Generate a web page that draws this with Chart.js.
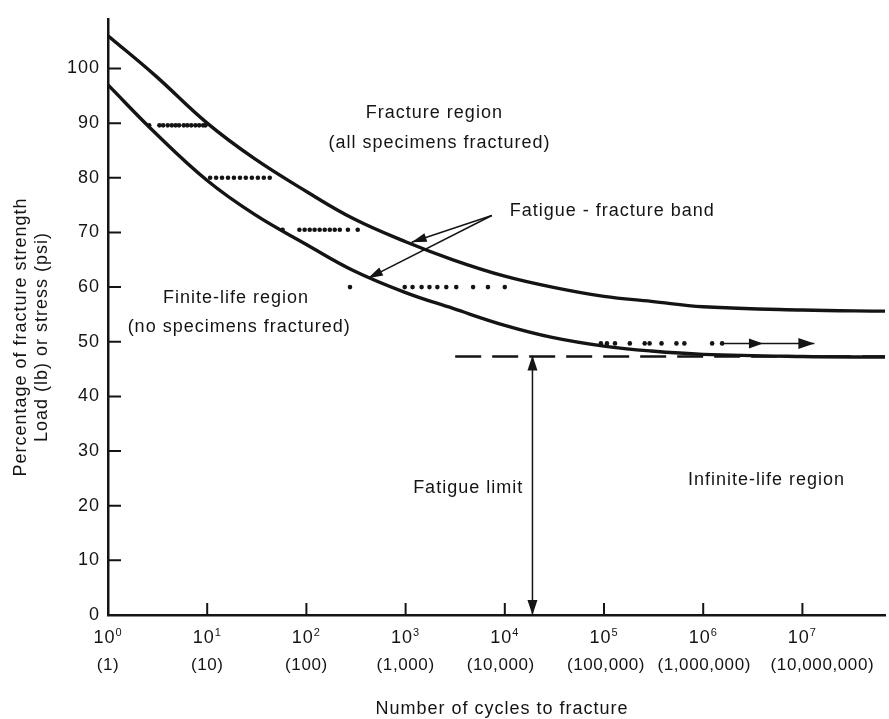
<!DOCTYPE html>
<html>
<head>
<meta charset="utf-8">
<script src="https://cdn.jsdelivr.net/npm/chart.js@4.4.1/dist/chart.umd.min.js"></script>
<style>
  html, body { margin: 0; padding: 0; background: #fff; }
  #wrap { width: 889px; height: 719px; }
</style>
</head>
<body>
<div id="wrap"><canvas id="grafico-fadiga"></canvas></div>
<script>
// Curve sample points (number of cycles) and band edges (% of fracture strength)
const curveCycles = [1, 3, 10, 30, 100, 300, 1000, 3000, 10000, 30000, 100000, 300000, 1000000, 10000000, 68000000];
const upperBand = [106, 98.7, 90, 83.5, 77.5, 72.5, 68.3, 65, 62, 60, 58.3, 57.4, 56.4, 55.8, 55.6];
const lowerBand = [97, 88.2, 79.5, 73.3, 67.8, 63, 59, 56.1, 53, 50.8, 49.2, 48.3, 47.7, 47.3, 47.2];

// Test specimens: stress level and cycles at fracture
const testLevels = [89.6, 80, 70.5, 60, 49.7];
const testCycles = [
  [2.6, 3.3, 3.6, 4.0, 4.4, 4.8, 5.2, 5.8, 6.3, 6.9, 7.6, 8.3, 9.1, 9.6],
  [10.7, 12.3, 14.1, 16.2, 18.6, 21.4, 24.5, 28.2, 32.4, 37.2, 42.7],
  [57.5, 85, 96, 108, 121, 136, 153, 172, 193, 217, 262, 329],
  [275, 980, 1175, 1450, 1740, 2090, 2570, 3240, 4790, 6760, 10000],
  [93000, 107000, 129000, 182000, 257000, 288000, 380000, 537000, 646000, 1230000, 1550000]
];

// Fatigue limit
const fatigueLimit = 47.3;
const fatigueLimitFrom = 3160;
const fatigueLimitArrowAt = 19000;

// Axis ticks
const xTickCycles = [1, 10, 100, 1000, 10000, 100000, 1000000, 10000000];
const xTickExp = ['0', '1', '2', '3', '4', '5', '6', '7'];
const xTickCount = ['(1)', '(10)', '(100)', '(1,000)', '(10,000)', '(100,000)', '(1,000,000)', '(10,000,000)'];
const yTicks = [0, 10, 20, 30, 40, 50, 60, 70, 80, 90, 100];

const ink = '#141414';
const fontFamily = '"Liberation Sans", Arial, sans-serif';
// small horizontal nudges of the "(count)" labels, as typeset in the source
const countNudge = [0, 0, 0, 0, -4, 2, 1, 20];

Chart.defaults.font.family = fontFamily;
Chart.defaults.font.size = 18;
Chart.defaults.color = ink;

const dots = [];
testLevels.forEach((lvl, i) => {
  testCycles[i].forEach(c => dots.push({ x: c, y: lvl }));
});

// textos e setas desenhados em coordenadas dos dados
const overlay = {
  id: 'overlay',
  beforeDraw(chart) {
    chart.ctx.letterSpacing = '1px';
  },
  afterDraw(chart) {
    const { ctx, chartArea: area, scales: { x, y } } = chart;
    const px = c => x.getPixelForValue(c);
    const py = v => y.getPixelForValue(v);

    ctx.save();
    ctx.strokeStyle = ink;
    ctx.fillStyle = ink;

    // inward tick marks
    ctx.lineWidth = 2;
    ctx.beginPath();
    yTicks.forEach(v => {
      if (v === 0) return;
      ctx.moveTo(area.left, py(v));
      ctx.lineTo(area.left + 13, py(v));
    });
    xTickCycles.forEach(c => {
      if (c === 1) return;
      ctx.moveTo(px(c), area.bottom);
      ctx.lineTo(px(c), area.bottom - 12);
    });
    ctx.stroke();

    // x tick labels: 10^n over (count)
    ctx.textBaseline = 'alphabetic';
    xTickCycles.forEach((c, i) => {
      const cx = px(c);
      ctx.letterSpacing = '1px';
      ctx.font = '18px ' + fontFamily;
      const wb = ctx.measureText('10').width;
      ctx.font = '11px ' + fontFamily;
      const we = ctx.measureText(xTickExp[i]).width;
      const left = cx - (wb + we) / 2;
      ctx.textAlign = 'left';
      ctx.font = '18px ' + fontFamily;
      ctx.fillText('10', left, 643);
      ctx.font = '11px ' + fontFamily;
      ctx.fillText(xTickExp[i], left + wb, 636);
      ctx.letterSpacing = '0.6px';
      ctx.font = '17px ' + fontFamily;
      ctx.textAlign = 'center';
      ctx.fillText(xTickCount[i], cx + countNudge[i], 670);
    });

    function head(x0, y0, x1, y1, len, wid) {
      const a = Math.atan2(y1 - y0, x1 - x0);
      ctx.beginPath();
      ctx.moveTo(x1, y1);
      ctx.lineTo(x1 - len * Math.cos(a) + wid * Math.sin(a), y1 - len * Math.sin(a) - wid * Math.cos(a));
      ctx.lineTo(x1 - len * Math.cos(a) - wid * Math.sin(a), y1 - len * Math.sin(a) + wid * Math.cos(a));
      ctx.closePath();
      ctx.fill();
    }

    // Fatigue - fracture band pointers
    ctx.lineWidth = 1.5;
    const sx = px(7400), sy = py(73.1);
    [[1150, 68.2], [417, 61.6]].forEach(([c, v]) => {
      ctx.beginPath();
      ctx.moveTo(sx, sy);
      ctx.lineTo(px(c), py(v));
      ctx.stroke();
      head(sx, sy, px(c), py(v), 15, 4.5);
    });

    // run-out arrows on the 50 % row
    const ry = py(49.7);
    ctx.beginPath();
    ctx.moveTo(px(1550000), ry);
    ctx.lineTo(px(13200000), ry);
    ctx.stroke();
    head(px(1550000), ry, px(4000000), ry, 14, 5);
    head(px(1550000), ry, px(13200000), ry, 16, 5.5);

    // fatigue limit double arrow
    const fx = px(fatigueLimitArrowAt);
    ctx.beginPath();
    ctx.moveTo(fx, py(fatigueLimit));
    ctx.lineTo(fx, py(0));
    ctx.stroke();
    head(fx, py(20), fx, py(fatigueLimit) - 1, 15, 5);
    head(fx, py(20), fx, py(0), 15, 5);

    // region labels
    ctx.letterSpacing = '1px';
    ctx.font = '18px ' + fontFamily;
    ctx.textBaseline = 'middle';
    ctx.textAlign = 'center';
    ctx.fillText('Fracture region', px(1950), py(91.8));
    ctx.fillText('(all specimens fractured)', px(2200), py(86.3));
    ctx.fillText('Finite-life region', px(19.5), py(58));
    ctx.fillText('(no specimens fractured)', px(21), py(52.7));
    ctx.fillText('Fatigue limit', px(4270), py(23.2));
    ctx.fillText('Infinite-life region', px(4340000), py(24.7));
    ctx.textAlign = 'left';
    ctx.fillText('Fatigue - fracture band', px(11200), py(74));

    // axis titles
    ctx.textAlign = 'center';
    ctx.fillText('Number of cycles to fracture', 502, 709);
    ctx.translate(area.left - 87, 337);
    ctx.rotate(-Math.PI / 2);
    ctx.fillText('Percentage of fracture strength', 0, 0);
    ctx.fillText('Load (lb) or stress (psi)', 0, 21);
    ctx.restore();
    ctx.letterSpacing = '0px';
  }
};

const ctx = document.getElementById('grafico-fadiga').getContext('2d');

new Chart(ctx, {
  type: 'line',
  data: {
    datasets: [
      {
        label: 'Fracture boundary',
        data: curveCycles.map((c, i) => ({ x: c, y: upperBand[i] })),
        borderColor: ink,
        borderWidth: 3.4,
        pointRadius: 0,
        tension: 0.4,
        fill: false
      },
      {
        label: 'Finite-life boundary',
        data: curveCycles.map((c, i) => ({ x: c, y: lowerBand[i] })),
        borderColor: ink,
        borderWidth: 3.4,
        pointRadius: 0,
        tension: 0.4,
        fill: false
      },
      {
        label: 'Fatigue limit',
        data: [{ x: fatigueLimitFrom, y: fatigueLimit }, { x: 68000000, y: fatigueLimit }],
        borderColor: ink,
        borderWidth: 2.3,
        borderDash: [26, 11],
        pointRadius: 0,
        fill: false
      },
      {
        type: 'scatter',
        label: 'Specimens',
        data: dots,
        pointRadius: 2.3,
        pointBackgroundColor: ink,
        pointBorderWidth: 0,
        showLine: false
      }
    ]
  },
  options: {
    responsive: true,
    maintainAspectRatio: false,
    animation: false,
    layout: { padding: 0 },
    plugins: {
      legend: { display: false },
      tooltip: { enabled: false }
    },
    scales: {
      x: {
        type: 'logarithmic',
        min: 1,
        max: 68000000,
        afterFit: s => { s.height = 104; },
        afterBuildTicks: s => { s.ticks = xTickCycles.map(v => ({ value: v })); },
        grid: { display: false, drawTicks: false },
        border: { display: true, color: ink, width: 2.5 },
        ticks: { display: false }
      },
      y: {
        min: 0,
        max: 109.1,
        afterFit: s => { s.width = 108; },
        afterBuildTicks: s => { s.ticks = yTicks.map(v => ({ value: v })); },
        grid: { display: false, drawTicks: false },
        border: { display: true, color: ink, width: 2.5 },
        ticks: {
          padding: 8,
          font: { size: 18 },
          callback: v => String(v)
        }
      }
    }
  },
  plugins: [overlay]
});
</script>
</body>
</html>
